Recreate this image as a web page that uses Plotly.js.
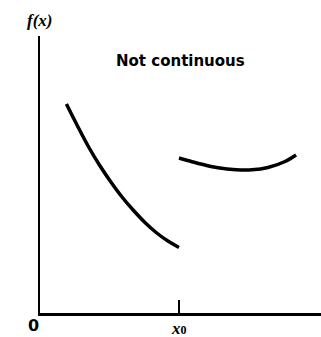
<!DOCTYPE html>
<html>
<head>
<meta charset="utf-8">
<script src="https://cdn.plot.ly/plotly-3.0.1.min.js"></script>
<style>
  html, body { margin: 0; padding: 0; background: #fff; }
  #chart { width: 321px; height: 337px; }
</style>
</head>
<body>
<div id="chart"></div>
<script>
// Left branch of f(x), for x below x0
const leftX = [0.19, 0.27, 0.35, 0.43, 0.51, 0.59, 0.67, 0.755, 0.84, 0.92, 1.0];
const leftY = [2.09, 1.87, 1.66, 1.475, 1.31, 1.16, 1.03, 0.905, 0.80, 0.72, 0.655];

// Right branch of f(x), starting at x0 with a jump
const rightX = [1.0, 1.094, 1.18, 1.28, 1.41, 1.525, 1.64, 1.763, 1.842];
const rightY = [1.55, 1.513, 1.482, 1.453, 1.433, 1.432, 1.455, 1.515, 1.58];

// Marked point on the x axis
const tickValues = [1];
const tickLabels = ['<b><i>x</i><span style="font-size:12px">0</span></b>'];

const lineStyle = { color: '#000', width: 3.5, shape: 'spline', smoothing: 1 };

const traces = [
  { x: leftX, y: leftY, mode: 'lines', line: lineStyle, hoverinfo: 'skip' },
  { x: rightX, y: rightY, mode: 'lines', line: lineStyle, hoverinfo: 'skip' }
];

// plot area spans x 40..321 px and y 36..313 px
const PX = v => (v - 40) / 281;
const PY = v => (313 - v) / 277;

const layout = {
  width: 321,
  height: 337,
  margin: { l: 40, r: 0, t: 36, b: 24 },
  paper_bgcolor: '#fff',
  plot_bgcolor: '#fff',
  showlegend: false,
  xaxis: {
    range: [0, 2.0216],
    showgrid: false,
    zeroline: false,
    showline: true,
    linecolor: '#000',
    linewidth: 2.5,
    tickvals: tickValues,
    ticktext: tickLabels,
    ticks: 'inside',
    ticklen: 13,
    tickwidth: 1.5,
    tickcolor: '#000',
    showticklabels: false,
    fixedrange: true
  },
  yaxis: {
    range: [0, 2.77],
    showgrid: false,
    zeroline: false,
    showline: true,
    linecolor: '#000',
    linewidth: 2.5,
    showticklabels: false,
    ticks: '',
    fixedrange: true
  },
  annotations: [
    {
      text: '<b><i>f(x)</i></b>',
      xref: 'paper', yref: 'paper',
      x: PX(39), y: PY(21), xanchor: 'center', yanchor: 'middle',
      showarrow: false,
      font: { family: 'Liberation Serif', size: 17, color: '#000' }
    },
    {
      text: '<b>Not continuous</b>',
      xref: 'paper', yref: 'paper',
      x: PX(180), y: PY(61), xanchor: 'center', yanchor: 'middle',
      showarrow: false,
      font: { family: 'DejaVu Sans', size: 15, color: '#000' }
    },
    {
      text: '<b>0</b>',
      xref: 'paper', yref: 'paper',
      x: PX(33), y: PY(325), xanchor: 'center', yanchor: 'middle',
      showarrow: false,
      font: { family: 'DejaVu Sans', size: 16, color: '#000' }
    },
    {
      // label for the x0 tick
      text: tickLabels[0],
      xref: 'x', yref: 'paper',
      x: tickValues[0], y: PY(328), xanchor: 'center', yanchor: 'middle',
      showarrow: false,
      font: { family: 'Liberation Serif', size: 17, color: '#000' }
    }
  ]
};

Plotly.newPlot('chart', traces, layout, { staticPlot: true, displayModeBar: false });
</script>
</body>
</html>
